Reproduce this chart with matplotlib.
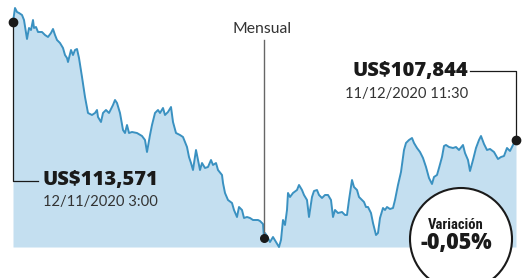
import matplotlib
matplotlib.use("Agg")
import matplotlib.pyplot as plt
import matplotlib.patches as mpatches
import matplotlib.transforms as mtransforms

# ── data: hours since 12/11/2020 3:00 and price (US$) ─────────────────────────
hours = [
    0, 2.8, 5.6, 8.4, 12.6, 15.4, 18.2, 19.6, 22.4, 25.2, 28, 29.4, 32.2, 35,
    40.6, 44.8, 49, 53.2, 56, 58.8, 61.6, 65.8, 70, 72.8, 75.6, 77, 81.2, 84,
    86.8, 89.6, 92.4, 96.6, 100.8, 105, 110.6, 114.8, 117.6, 119, 123.2, 126,
    130.2, 134.4, 140, 142.8, 145.6, 149.8, 154, 156.8, 159.6, 162.4, 166.6,
    173.6, 180.6, 184.8, 187.6, 191.8, 194.6, 198.8, 203, 205.8, 210, 212.8,
    217, 221.2, 224, 228.2, 233.8, 238, 243.6, 246.4, 249.2, 252, 256.2, 259,
    261.8, 264.6, 268.8, 273, 277.2, 280, 284.2, 287, 292.6, 294, 296.8, 301,
    306.6, 309.4, 313.6, 316.4, 320.6, 323.4, 327.6, 331.8, 336, 343, 345.8,
    350, 351.4, 352.8, 355.6, 359.8, 364, 368.2, 372.4, 375.2, 376.6, 378,
    380.8, 383.6, 385, 387.8, 392, 397.6, 400.4, 404.6, 407.4, 411.6, 414.4,
    418.6, 421.4, 425.6, 428.4, 432.6, 436.8, 441, 445.2, 448, 450.8, 455,
    460.6, 464.8, 467.6, 470.4, 474.6, 477.4, 481.6, 484.4, 488.6, 491.4,
    494.2, 497, 501.2, 504, 508.2, 511, 513.8, 518, 520.8, 523.6, 527.8, 532,
    534.8, 539, 543.2, 547.4, 550.2, 554.4, 558.6, 561.4, 565.6, 569.8, 574,
    578.2, 582.4, 586.6, 589.4, 593.6, 596.4, 600.6, 603.4, 606.2, 610.4, 616,
    620.2, 624.4, 630, 632.8, 637, 639.8, 644, 648.2, 652.4, 655.2, 659.4,
    663.6, 667.8, 673.4, 679, 683.2, 687.4, 691.6, 695.8, 700, 704.2,
]
price = [
    113571, 114250, 114056, 114008, 113911, 113668, 113038, 112747, 113280,
    113183, 113668, 113280, 113329, 113086, 113086, 112941, 112844, 113038,
    113232, 112941, 112698, 112553, 112310, 111970, 111825, 111631, 112213,
    111970, 112213, 112262, 111825, 110904, 109934, 109158, 109061, 109158,
    109303, 108964, 108721, 109158, 109303, 109158, 109546, 109788, 109642,
    109158, 108333, 108187, 108575, 108187, 108236, 108187, 108042, 107848,
    107266, 108090, 108575, 109158, 109303, 109158, 109400, 109061, 109206,
    109448, 108721, 108187, 108090, 107993, 107508, 107023, 106732, 106393,
    107363, 106878, 106393, 106732, 106490, 106539, 106878, 106636, 106732,
    106393, 106151, 105763, 105278, 104938, 104793, 104453, 104113, 104598,
    104453, 104065, 104113, 104065, 103968, 103968, 103919, 103774, 103095,
    103337, 103192, 102901, 103143, 102901, 102658, 102998, 103483, 103968,
    103726, 104453, 105278, 105084, 105278, 105423, 105666, 105423, 105181,
    104938, 104113, 105084, 105375, 105423, 105181, 105035, 105181, 105181,
    104938, 104113, 104453, 104307, 104356, 104211, 104211, 104938, 105908,
    105569, 105423, 105084, 104938, 104841, 104598, 104598, 104307, 103822,
    103240, 103337, 104065, 104550, 104453, 104598, 104501, 104550, 104938,
    105666, 106296, 107363, 107703, 107848, 107945, 107703, 107460, 107266,
    106975, 106539, 106005, 105714, 106054, 106151, 106490, 107023, 107557,
    107606, 107508, 107460, 107508, 107363, 107606, 107218, 106878, 106345,
    106878, 107460, 107848, 108042, 107654, 107363, 107412, 107266, 106926,
    107023, 107072, 107460, 107315, 107606, 107844,
]
BASELINE = 102658
MONTH_IDX = 98          # point marked under "Mensual"

START_LABEL = "US$113,571"
START_DATE = "12/11/2020 3:00"
END_LABEL = "US$107,844"
END_DATE = "11/12/2020 11:30"
VAR_TITLE = "Variación"
VAR_VALUE = "-0,05%"

LINE_C = "#3a91c1"
FILL_C = "#c4dff0"
INK = "#1a1a1a"
BOLD_FONT = ["Open Sans", "DejaVu Sans"]
TEXT_FONT = ["Lato", "DejaVu Sans"]

W, H = 522, 278
fig = plt.figure(figsize=(W / 100, H / 100), dpi=100)
ax = fig.add_axes([0, 0, 1, 1])
ax.set_axis_off()

# px -> data mapping chosen so the series spans x 13..516 px, y baseline at 247 px
ax.set_xlim(-18.2, 712.6)
ax.set_ylim(101155, 114638)

ax.fill_between(hours, price, BASELINE, color=FILL_C, lw=0, zorder=1)
ax.plot(hours, price, color=LINE_C, lw=1.4, zorder=2, solid_joinstyle="round")


def fx(px):
    return px / W


def fy(py):
    return 1 - py / H


# ── start annotation ─────────────────────────────────────────────────────────
lbl_p = 105860
ax.plot([hours[0], hours[0], 35], [price[0], lbl_p, lbl_p], color=INK, lw=0.9, zorder=3)
ax.scatter([hours[0]], [price[0]], s=36, color=INK, zorder=4)
fig.text(fx(42), fy(180), START_LABEL, fontsize=14.5, fontweight=800,
         family=BOLD_FONT, color=INK, ha="left", va="center")
fig.text(fx(43), fy(202), START_DATE, fontsize=10.6, family=TEXT_FONT,
         color="#333333", ha="left", va="center")

# ── end annotation ───────────────────────────────────────────────────────────
end_p = 111194
ax.plot([640, hours[-1], hours[-1]], [end_p, end_p, price[-1]], color=INK, lw=0.9, zorder=3)
ax.scatter([hours[-1]], [price[-1]], s=36, color=INK, zorder=4, clip_on=False)
fig.text(fx(468), fy(71), END_LABEL, fontsize=14.5, fontweight=800,
         family=BOLD_FONT, color=INK, ha="right", va="center")
fig.text(fx(468), fy(94), END_DATE, fontsize=10.6, family=TEXT_FONT,
         color="#333333", ha="right", va="center")

# ── "Mensual" marker ─────────────────────────────────────────────────────────
mx, mp = hours[MONTH_IDX], price[MONTH_IDX]
ax.plot([mx, mx], [mp, 112698], color="#666666", lw=1.0, zorder=3)
ax.scatter([mx], [mp], s=30, color=INK, zorder=4)
fig.text(fx(262), fy(29), "Mensual", fontsize=11.3, family=TEXT_FONT,
         color="#333333", ha="center", va="center")

# ── variation badge ──────────────────────────────────────────────────────────
circ = mpatches.Circle((461, H - 239), 51, transform=mtransforms.IdentityTransform(),
                       facecolor="white", edgecolor=INK, lw=1.5, zorder=5)
fig.patches.append(circ)
fig.text(fx(456), fy(225), VAR_TITLE, fontsize=10.5, fontweight="bold",
         family=["Roboto Condensed", "DejaVu Sans"], fontstretch="condensed",
         color=INK, ha="center", va="center", zorder=6)
fig.text(fx(456), fy(243), VAR_VALUE, fontsize=15.5, fontweight=800,
         family=BOLD_FONT, color=INK, ha="center", va="center", zorder=6)

fig.savefig("out.png", dpi=100)
